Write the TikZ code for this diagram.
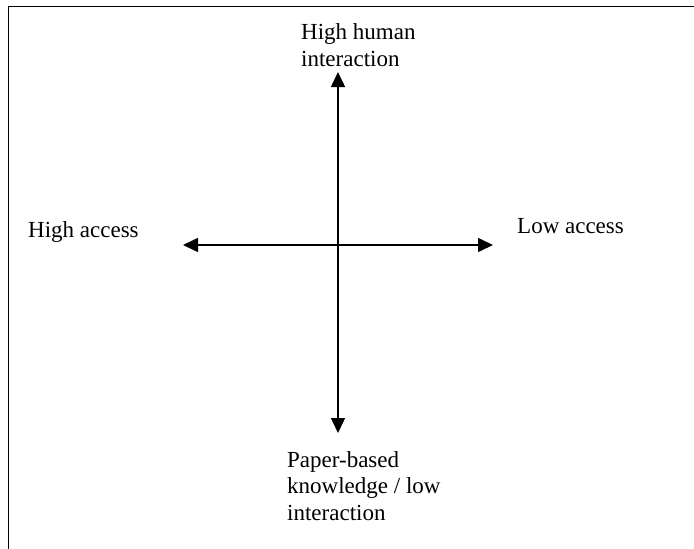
\documentclass[tikz,border=0pt]{standalone}
\usepackage{fontspec}
\setmainfont{Liberation Serif}
\usetikzlibrary{arrows.meta}
\begin{document}
\begin{tikzpicture}[x=1pt,y=-1pt,
  lbl/.style={font=\fontsize{23}{26.5}\selectfont, inner sep=0pt, anchor=base west, align=left},
  axis/.style={line width=1.5pt, {Triangle[length=15pt,width=14pt]}-{Triangle[length=15pt,width=14pt]}},
  frame/.style={line width=1.8pt, line join=miter}]
\useasboundingbox (0,0) rectangle (694,549);
\coordinate (fl) at (8.5,549);
\coordinate (fc) at (8.5,6.5);
\coordinate (fr) at (694,6.5);
\draw[frame] (fl) -- (fc) -- (fr);
\coordinate (top) at (338,72);
\coordinate (bot) at (338,433);
\coordinate (lft) at (183,245);
\coordinate (rgt) at (493,245);
\draw[axis] (bot) -- (top);
\draw[axis] (lft) -- (rgt);
\node[lbl] (hh) at (301,66) {High human\\interaction};
\node[lbl] (ha) at (28,237) {High access};
\node[lbl] (la) at (517,233) {Low access};
\node[lbl] (pb) at (287,520) {Paper-based\\knowledge / low\\interaction};
\end{tikzpicture}
\end{document}
